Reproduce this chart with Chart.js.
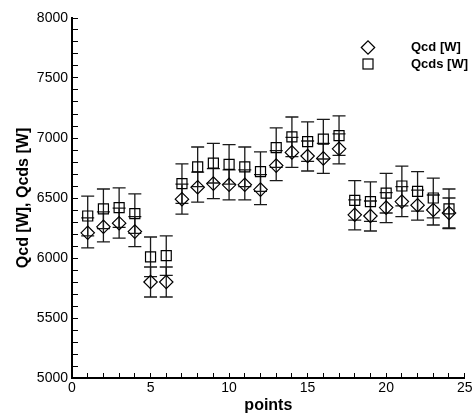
<!DOCTYPE html>
<html>
<head>
<meta charset="utf-8">
<script src="https://cdn.jsdelivr.net/npm/chart.js@4/dist/chart.umd.min.js"></script>
<style>
  body { margin: 0; background: #fff; }
  canvas { display: block; }
</style>
</head>
<body>
<canvas id="chart" width="473" height="415"></canvas>
<script>
// measurement points
var points = [1, 2, 3, 4, 5, 6, 7, 8, 9, 10, 11, 12, 13, 14, 15, 16, 17, 18, 19, 20, 21, 22, 23, 24];

// Qcd [W] (diamonds)
var qcd = [6210, 6260, 6290, 6220, 5800, 5800, 6490, 6590, 6620, 6610, 6610, 6570,
           6770, 6880, 6850, 6830, 6910, 6360, 6350, 6420, 6470, 6440, 6400, 6375];

// Qcds [W] (squares)
var qcds = [6350, 6410, 6420, 6370, 6010, 6020, 6620, 6760, 6790, 6780, 6760, 6720,
            6920, 7010, 6970, 6990, 7020, 6480, 6470, 6540, 6600, 6555, 6500, 6410];

// error bar half heights
var qcdErr = 125;
var qcdsErr = 165;

var seriesNames = ['Qcd [W]', 'Qcds [W]'];

var FONT = "'Liberation Sans', Arial, sans-serif";

function toXY(vals) {
	return points.map(function(p, i) { return { x: p, y: vals[i] }; });
}

// error bars drawn under the (hollow) markers
var errorBars = {
	id: 'errorBars',
	beforeDatasetsDraw: function(chart) {
		var ctx = chart.ctx;
		var xs = chart.scales.x, ys = chart.scales.y;
		var sets = [[qcd, qcdErr], [qcds, qcdsErr]];
		ctx.save();
		ctx.strokeStyle = '#1a1a1a';
		ctx.lineWidth = 1.3;
		sets.forEach(function(s) {
			var vals = s[0], err = s[1];
			points.forEach(function(p, i) {
				var px = xs.getPixelForValue(p);
				var top = ys.getPixelForValue(vals[i] + err);
				var bot = ys.getPixelForValue(vals[i] - err);
				ctx.beginPath();
				ctx.moveTo(px, top); ctx.lineTo(px, bot);
				ctx.moveTo(px - 6.5, top); ctx.lineTo(px + 6.5, top);
				ctx.moveTo(px - 6.5, bot); ctx.lineTo(px + 6.5, bot);
				ctx.stroke();
			});
		});
		ctx.restore();
	}
};

// small legend in the top right corner
var cornerLegend = {
	id: 'cornerLegend',
	afterDraw: function(chart) {
		var ctx = chart.ctx;
		ctx.save();
		ctx.strokeStyle = '#000';
		ctx.lineWidth = 1.2;
		// diamond
		var x = 368, y = 47.5, r = 6.7;
		ctx.beginPath();
		ctx.moveTo(x - r, y); ctx.lineTo(x, y - r); ctx.lineTo(x + r, y); ctx.lineTo(x, y + r);
		ctx.closePath();
		ctx.stroke();
		// square
		ctx.strokeRect(368 - 5, 64 - 5, 10, 10);

		ctx.fillStyle = '#000';
		ctx.font = 'bold 13px ' + FONT;
		ctx.textBaseline = 'middle';
		ctx.textAlign = 'left';
		ctx.fillText(seriesNames[0], 411, 47.5);
		ctx.fillText(seriesNames[1], 411, 64);
		ctx.restore();
	}
};

new Chart(document.getElementById('chart'), {
	type: 'scatter',
	data: {
		datasets: [{
			label: seriesNames[0],
			data: toXY(qcd),
			pointStyle: 'rectRot',
			pointRadius: 6.7,
			pointHoverRadius: 6.7,
			pointBorderWidth: 1.2,
			borderColor: '#000',
			backgroundColor: 'rgba(0,0,0,0)',
			showLine: false
		}, {
			label: seriesNames[1],
			data: toXY(qcds),
			pointStyle: 'rect',
			pointRadius: 7.1,
			pointHoverRadius: 7.1,
			pointBorderWidth: 1.2,
			borderColor: '#000',
			backgroundColor: 'rgba(0,0,0,0)',
			showLine: false
		}]
	},
	options: {
		responsive: false,
		animation: false,
		layout: { padding: { left: 0, top: 18, right: 5, bottom: 0 } },
		plugins: {
			legend: { display: false },
			tooltip: { enabled: false }
		},
		scales: {
			x: {
				type: 'linear',
				min: 0,
				max: 25,
				border: { display: true, color: '#000', width: 2 },
				grid: { drawOnChartArea: false, drawTicks: true, tickLength: -5, tickColor: '#000', tickWidth: 1 },
				ticks: {
					stepSize: 1,
					autoSkip: false,
					maxRotation: 0,
					padding: 7,
					color: '#000',
					font: { family: FONT, size: 14 },
					callback: function(v) { return v % 5 === 0 ? String(v) : ''; }
				},
				title: {
					display: true,
					text: 'points',
					color: '#000',
					font: { family: FONT, size: 16, weight: 'bold' },
					padding: { top: 2, bottom: 0 }
				},
				afterFit: function(scale) {
					scale.height = 37;
					scale.paddingLeft = 0;
					scale.paddingRight = 0;
				}
			},
			y: {
				type: 'linear',
				min: 5000,
				max: 8000,
				border: { display: true, color: '#000', width: 2 },
				grid: { drawOnChartArea: false, drawTicks: true, tickLength: -6, tickColor: '#000', tickWidth: 1 },
				ticks: {
					stepSize: 100,
					autoSkip: false,
					padding: 10,
					color: '#000',
					font: { family: FONT, size: 14 },
					callback: function(v) { return v % 500 === 0 ? String(v) : ''; }
				},
				title: {
					display: true,
					text: 'Qcd [W], Qcds [W]',
					color: '#000',
					font: { family: FONT, size: 16, weight: 'bold' },
					padding: { top: 14, bottom: 0 }
				},
				afterFit: function(scale) {
					scale.width = 72;
					scale.paddingTop = 0;
					scale.paddingBottom = 0;
				}
			}
		}
	},
	plugins: [errorBars, cornerLegend]
});
</script>
</body>
</html>
